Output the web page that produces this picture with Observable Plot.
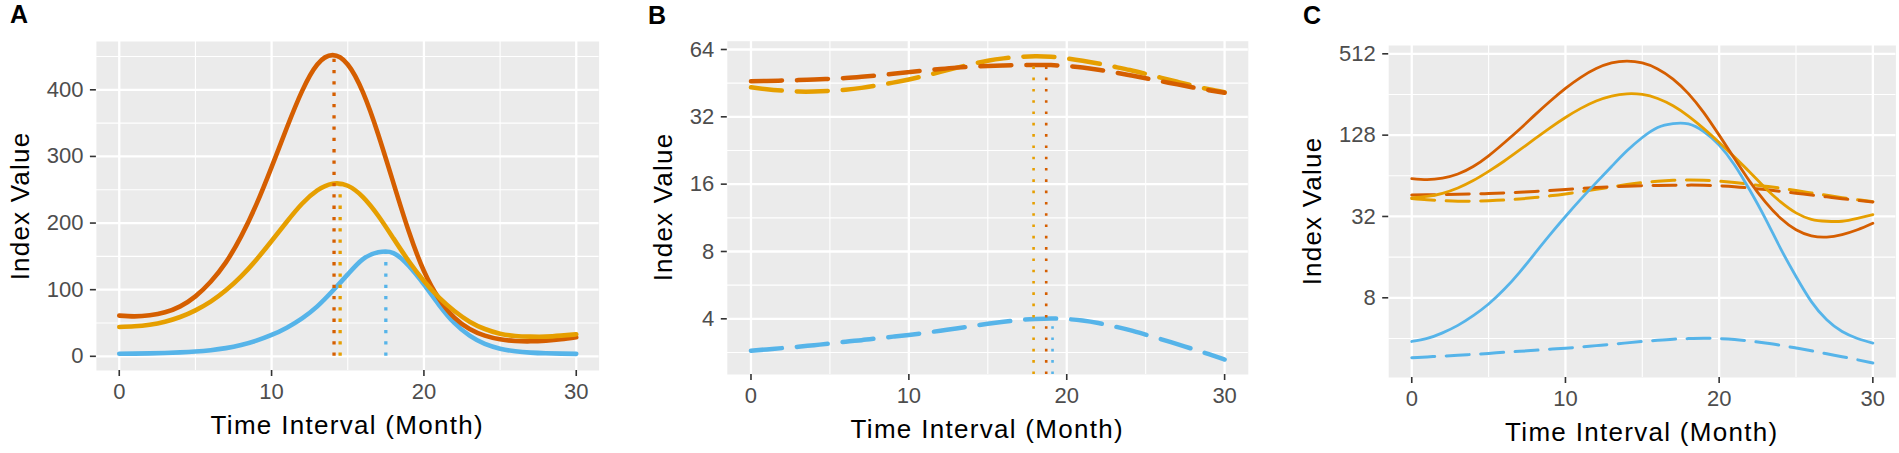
<!DOCTYPE html>
<html><head><meta charset="utf-8">
<script src="https://cdn.jsdelivr.net/npm/d3@7"></script>
<script src="https://cdn.jsdelivr.net/npm/@observablehq/plot@0.6"></script>
<style>
body{margin:0;background:#fff;}
#root{position:relative;width:1899px;height:453px;overflow:hidden;font-family:"Liberation Sans",Arial,sans-serif;background:#fff;}
.panel{position:absolute;top:0;}
.tag{position:absolute;font-weight:bold;font-size:25px;line-height:25px;color:#000;}
.xt{position:absolute;font-size:26px;line-height:26px;letter-spacing:1.3px;white-space:nowrap;transform:translateX(-50%);color:#000;}
.yt{position:absolute;font-size:26px;line-height:26px;letter-spacing:1.2px;white-space:nowrap;transform:translate(-50%,-50%) rotate(-90deg);color:#000;}
</style></head>
<body><div id="root"></div>
<script>
// ---- data ----
const months = [0,1,2,3,4,5,6,7,8,9,10,11,12,13,14,15,16,17,18,19,20,21,22,23,24,25,26,27,28,29,30];
const seriesKeys = ["s1", "s2", "s3"];
const seriesColors = ["#D55E00", "#E69F00", "#56B4E9"];

// solid curves (panels A and C)
const solidRed    = [61,60,61.5,66,75,90,112,141,180,228,284,343,398,438,452,438,396,333,260,188,128,86,58,41,31,25.5,23,22.5,23.5,25.5,28.5];
const solidOrange = [44,45,47.5,52,59,69,82,99,120,145,173,202,229,249,259,256,239,211,177,143,113,88,68,52,41,34,30.5,29.5,29.5,31,33];
const solidBlue   = [3.8,4,4.4,5,5.9,7.2,9.2,12.3,17,23.5,32,43,57,75,98,123,146,156,155,136,108,77,50,31,18.5,11.5,7.5,5.5,4.5,4,3.7];

// dashed curves (panels B and C)
const dashRed    = [46.2,46.3,46.5,46.7,47,47.3,47.7,48.3,49,49.8,50.7,51.6,52.4,53.1,53.6,54,54.3,54.5,54.6,54.5,54,53.2,52,50.6,49.1,47.6,46.1,44.7,43.3,42.1,41];
const dashOrange = [43.4,42.5,41.9,41.5,41.5,41.8,42.3,43.1,44.2,45.5,47,48.8,50.8,53,55.1,57,58.4,59.3,59.7,59.4,58.4,57,55.4,53.6,51.8,49.8,47.8,45.9,44.1,42.5,41.2];
const dashBlue   = [2.88,2.92,2.96,3.0,3.05,3.1,3.16,3.21,3.27,3.33,3.39,3.46,3.54,3.62,3.71,3.8,3.88,3.95,3.99,4.01,3.99,3.93,3.83,3.7,3.56,3.4,3.24,3.08,2.93,2.78,2.63];

// peak markers (red, orange, blue)
const peakMonthA = [14.1, 14.5, 17.5];
const peakValueA = [452, 259, 157];
const peakMonthB = [18.7, 17.9, 19.1];
const peakValueB = [54.6, 59.7, 4.01];

// axes
const xTicks = [0, 10, 20, 30];
const xMinor = [5, 15, 25];
const yTicksA = [0, 100, 200, 300, 400];
const yMinorA = [50, 150, 250, 350, 450];
const yTicksB = [4, 8, 16, 32, 64];
const yMinorB = [2.83, 5.66, 11.31, 22.63, 45.25];
const yTicksC = [8, 32, 128, 512];
const yMinorC = [4, 16, 64, 256];

const xTitle = "Time Interval (Month)";
const yTitle = "Index Value";
const panelTags = ["A", "B", "C"];

// ---- helpers ----
const rows = (values, key) => months.map((m, i) => ({month: m, value: values[i], series: key}));
const peakRows = (ms, vs, floor) => ms.map((m, i) => ({month: m, value: vs[i], floor, series: seriesKeys[i]}));
const colorOf = k => seriesColors[seriesKeys.indexOf(k)];

function line(values, idx, opts) {
  return Plot.line(rows(values, seriesKeys[idx]), {x: "month", y: "value", stroke: seriesColors[idx], curve: "natural", ...opts});
}
function rules(peaks, opts) {
  return peaks.map(p => Plot.ruleX([p], {x: "month", y1: "floor", y2: "value", stroke: colorOf(p.series), ...opts}));
}

function makePanel(cfg) {
  const white = {stroke: "#ffffff", strokeOpacity: 1};
  const svg = Plot.plot({
    width: cfg.width, height: 453,
    marginLeft: cfg.ml, marginRight: cfg.mr, marginTop: cfg.mt, marginBottom: cfg.mb,
    style: {fontFamily: '"Liberation Sans", Arial, sans-serif', fontSize: "22px", background: "transparent", color: "#4D4D4D"},
    x: {domain: [-1.5, 31.5]},
    y: cfg.y,
    marks: [
      Plot.frame({fill: "#EBEBEB", stroke: "none"}),
      Plot.gridX(xMinor, {...white, strokeWidth: 1.1}),
      Plot.gridY(cfg.yMinor, {...white, strokeWidth: 1.1}),
      Plot.gridX(xTicks, {...white, strokeWidth: 2.3}),
      Plot.gridY(cfg.yTicks, {...white, strokeWidth: 2.3}),
      Plot.axisX(xTicks, {tickSize: 6, tickPadding: 7, stroke: "#333333", strokeWidth: 1.6, fill: "#4D4D4D", label: null, tickFormat: d => String(d)}),
      Plot.axisY(cfg.yTicks, {tickSize: 6, tickPadding: 7, stroke: "#333333", strokeWidth: 1.6, fill: "#4D4D4D", label: null, tickFormat: d => String(d)}),
      ...cfg.marks
    ]
  });
  svg.classList.add("panel");
  svg.style.left = cfg.left + "px";
  return svg;
}

const root = document.getElementById("root");

// Panel A
const domA = [-21.3, 472.5];
root.appendChild(makePanel({
  left: 0, width: 630, ml: 95.9, mr: 31.4, mt: 41, mb: 83,
  y: {domain: domA},
  yTicks: yTicksA, yMinor: yMinorA,
  marks: [
    line(solidBlue, 2, {strokeWidth: 4.6}),
    line(solidRed, 0, {strokeWidth: 4.6}),
    line(solidOrange, 1, {strokeWidth: 4.6}),
    ...rules(peakRows(peakMonthA, peakValueA, 0), {strokeWidth: 3.3, strokeDasharray: "3.3 8"})
  ]
}));

// Panel B
const domB = [2.255, 69.7];
root.appendChild(makePanel({
  left: 630, width: 630, ml: 96.8, mr: 12.2, mt: 40.7, mb: 79,
  y: {type: "log", base: 2, domain: domB},
  yTicks: yTicksB, yMinor: yMinorB,
  marks: [
    line(dashBlue, 2, {strokeWidth: 4.5, strokeDasharray: "31 15"}),
    line(dashOrange, 1, {strokeWidth: 4.5, strokeDasharray: "31 15"}),
    line(dashRed, 0, {strokeWidth: 4.5, strokeDasharray: "31 15"}),
    ...rules(peakRows(peakMonthB, peakValueB, domB[0]), {strokeWidth: 2.6, strokeDasharray: "2.6 8.7"})
  ]
}));

// Panel C
const domC = [2.056, 590];
root.appendChild(makePanel({
  left: 1260, width: 639, ml: 128.2, mr: 3.6, mt: 45, mb: 76,
  y: {type: "log", base: 2, domain: domC},
  yTicks: yTicksC, yMinor: yMinorC,
  marks: [
    line(dashBlue, 2, {strokeWidth: 3, strokeDasharray: "23 11.5"}),
    line(dashOrange, 1, {strokeWidth: 3, strokeDasharray: "23 11.5"}),
    line(dashRed, 0, {strokeWidth: 3, strokeDasharray: "23 11.5"}),
    line(solidBlue, 2, {strokeWidth: 2.8}),
    line(solidOrange, 1, {strokeWidth: 2.8}),
    line(solidRed, 0, {strokeWidth: 2.8})
  ]
}));

// titles
const addDiv = (cls, text, left, top) => {
  const d = document.createElement("div");
  d.className = cls; d.textContent = text;
  d.style.left = left + "px"; d.style.top = top + "px";
  root.appendChild(d);
};
addDiv("tag", panelTags[0], 10, 1.8);
addDiv("tag", panelTags[1], 648, 2.8);
addDiv("tag", panelTags[2], 1303, 3.3);
addDiv("xt", xTitle, 347.3, 412);
addDiv("xt", xTitle, 987.3, 416);
addDiv("xt", xTitle, 1641.8, 418.5);
addDiv("yt", yTitle, 20, 205.5);
addDiv("yt", yTitle, 662.5, 207.4);
addDiv("yt", yTitle, 1312, 211);
</script>
</body></html>
